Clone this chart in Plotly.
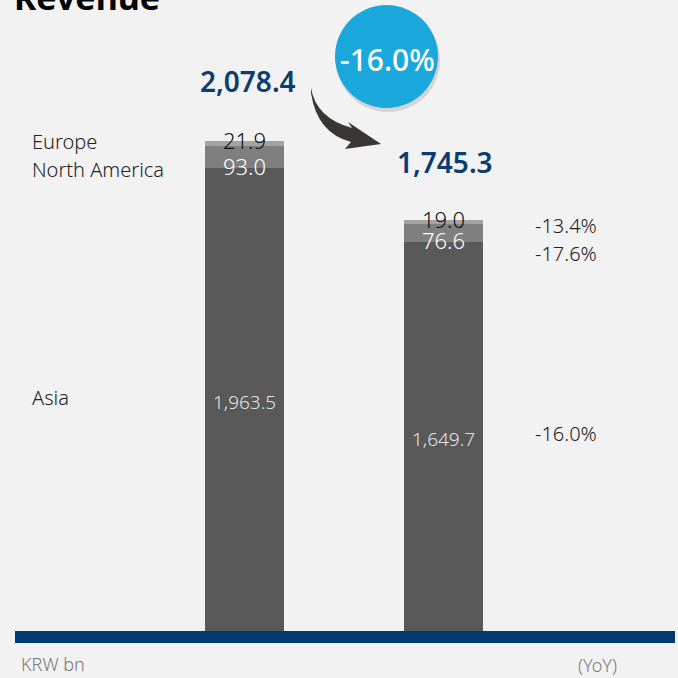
import plotly.graph_objects as go

# ---- data ----
periods = ["Previous", "Current"]
asia = [1963.5, 1649.7]
north_america = [93.0, 76.6]
europe = [21.9, 19.0]
totals = [2078.4, 1745.3]
asia_labels = ["1,963.5", "1,649.7"]
na_labels = ["93.0", "76.6"]
eu_labels = ["21.9", "19.0"]
total_labels = ["2,078.4", "1,745.3"]
yoy_labels = {"Europe": "-13.4%", "North America": "-17.6%", "Asia": "-16.0%"}
total_change = "-16.0%"

W, H = 678, 678
PLOT_BOTTOM = 631  # px of baseline

def px(x):
    return x / W

def py(y):
    return (PLOT_BOTTOM - y) / PLOT_BOTTOM

FONT = "Noto Sans"
BG = "#f2f2f2"
NAVY = "#0d3d70"

fig = go.Figure()
fig.add_trace(go.Bar(x=periods, y=asia, name="Asia", marker=dict(color="#595959", line=dict(width=0)), width=0.397))
fig.add_trace(go.Bar(x=periods, y=north_america, name="North America", marker=dict(color="#7f7f7f", line=dict(width=0)), width=0.397))
fig.add_trace(go.Bar(x=periods, y=europe, name="Europe", marker=dict(color="#a3a3a3", line=dict(width=0)), width=0.397))

ann = []
for i, p in enumerate(periods):
    ann.append(dict(x=p, y=asia[i] / 2, xref="x", yref="y", text=asia_labels[i], showarrow=False,
                    font=dict(family=FONT, size=19, color="#e4e4e4", weight=300), yshift=-2))
    ann.append(dict(x=p, y=asia[i], xref="x", yref="y", text=na_labels[i], showarrow=False,
                    font=dict(family=FONT, size=22, color="#ffffff", weight=300), yshift=2))
    ann.append(dict(x=p, y=totals[i], xref="x", yref="y", text=eu_labels[i], showarrow=False,
                    font=dict(family=FONT, size=22, color="#111111", weight=300), yshift=1))

ann.append(dict(x=periods[0], y=totals[0], xref="x", yref="y", text=total_labels[0], showarrow=False,
                font=dict(family=FONT, size=28, color=NAVY, weight=600), yshift=60, xshift=3))
ann.append(dict(x=periods[1], y=totals[1], xref="x", yref="y", text=total_labels[1], showarrow=False,
                font=dict(family=FONT, size=28, color=NAVY, weight=600), yshift=58, xshift=1))

lab_font = dict(family=FONT, size=20, color="#222222", weight=300)
ann.append(dict(x=px(30), y=totals[0], xref="paper", yref="y", text="Europe", showarrow=False,
                xanchor="left", font=lab_font, yshift=0))
ann.append(dict(x=px(30), y=asia[0], xref="paper", yref="y", text="North America", showarrow=False,
                xanchor="left", font=lab_font, yshift=-1))
ann.append(dict(x=px(30), y=asia[0] / 2, xref="paper", yref="y", text="Asia", showarrow=False,
                xanchor="left", font=lab_font, yshift=2))

ann.append(dict(x=px(533), y=totals[1], xref="paper", yref="y", text=yoy_labels["Europe"], showarrow=False,
                xanchor="left", font=lab_font, yshift=-6))
ann.append(dict(x=px(533), y=asia[1], xref="paper", yref="y", text=yoy_labels["North America"], showarrow=False,
                xanchor="left", font=lab_font, yshift=-11))
ann.append(dict(x=px(533), y=asia[1] / 2, xref="paper", yref="y", text=yoy_labels["Asia"], showarrow=False,
                xanchor="left", font=lab_font, yshift=3))

foot_font = dict(family=FONT, size=18, color="#7a7a7a", weight=300)
ann.append(dict(x=px(19), y=py(664), xref="paper", yref="paper", text="KRW bn", showarrow=False,
                xanchor="left", yanchor="middle", font=foot_font))
ann.append(dict(x=px(576), y=py(665), xref="paper", yref="paper", text="(YoY)", showarrow=False,
                xanchor="left", yanchor="middle", font=foot_font))

ann.append(dict(x=px(12), y=py(22), xref="paper", yref="paper", text="Revenue", showarrow=False,
                xanchor="left", yanchor="bottom", font=dict(family=FONT, size=34, color="#000000", weight=700)))

ann.append(dict(x=px(387), y=py(60), xref="paper", yref="paper", text=total_change, showarrow=False,
                xanchor="center", yanchor="middle", font=dict(family=FONT, size=30, color="#ffffff", weight=500)))

shapes = []
shapes.append(dict(type="rect", xref="paper", yref="paper", x0=px(15), x1=px(675), y0=py(631), y1=py(643),
                   fillcolor="#003a70", line=dict(width=0), layer="above"))
shapes.append(dict(type="circle", xref="paper", yref="paper", x0=px(336), x1=px(440), y0=py(9), y1=py(112),
                   fillcolor="rgba(0,0,0,0.12)", line=dict(width=0)))
shapes.append(dict(type="circle", xref="paper", yref="paper", x0=px(335), x1=px(438), y0=py(5), y1=py(108),
                   fillcolor="#1aa8dc", line=dict(width=0)))

def P(x, y):
    return f"{px(x):.5f},{py(y):.5f}"

arrow_path = (
    f"M {P(311, 88)} "
    f"Q {P(316, 118)} {P(352, 128)} "
    f"L {P(348, 122)} "
    f"L {P(381, 144)} "
    f"L {P(345, 149)} "
    f"L {P(351, 142)} "
    f"Q {P(317, 133)} {P(311, 93)} Z"
)
shapes.append(dict(type="path", xref="paper", yref="paper", path=arrow_path,
                   fillcolor="#3b3636", line=dict(width=0)))

cat_span = 199.0
fig.update_layout(
    width=W, height=H,
    margin=dict(l=0, r=0, t=0, b=H - PLOT_BOTTOM),
    paper_bgcolor=BG, plot_bgcolor=BG,
    barmode="stack",
    showlegend=False,
    xaxis=dict(range=[-244.5 / cat_span, (W - 244.5) / cat_span], visible=False, fixedrange=True),
    yaxis=dict(range=[0, PLOT_BOTTOM / (490 / 2078.4)], visible=False, fixedrange=True),
    annotations=ann,
    shapes=shapes,
    bargap=0,
)

fig.write_html("out.html")
